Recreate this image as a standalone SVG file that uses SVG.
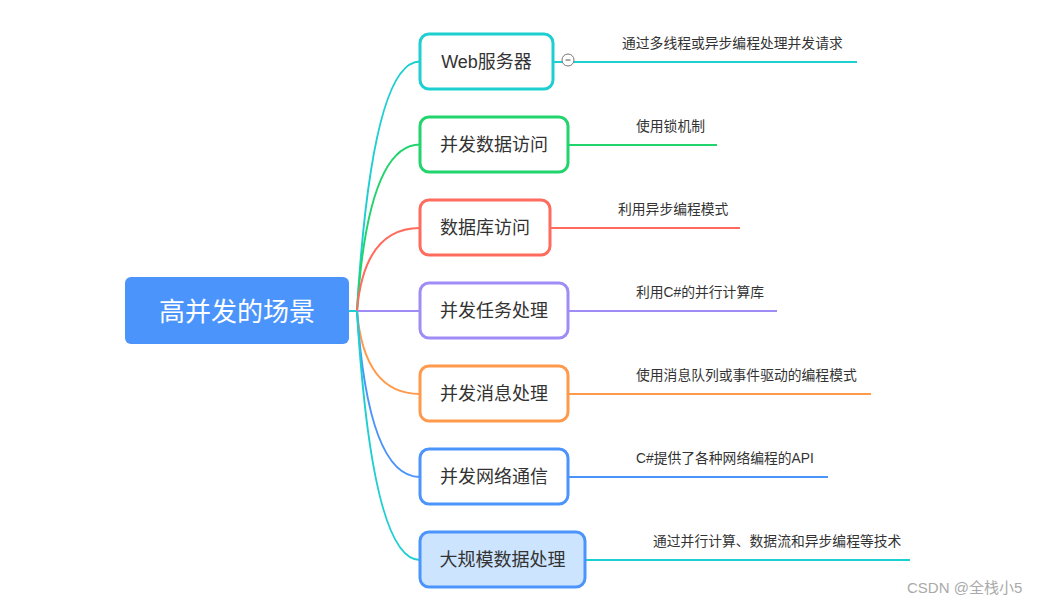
<svg xmlns="http://www.w3.org/2000/svg" width="1039" height="605" viewBox="0 0 1039 605">
<style>
.box{fill:#fff;stroke-width:3}
.ntext{font-family:"Liberation Sans","Noto Sans CJK SC",sans-serif;font-size:18px;fill:#333;text-anchor:middle}
.ltext{font-family:"Liberation Sans","Noto Sans CJK SC",sans-serif;font-size:13.8px;fill:#333}
.conn{fill:none;stroke-width:2}
</style>
<rect width="1039" height="605" fill="#fff"/>
<g id="connectors">
<path class="conn" d="M349,311 L357,311" stroke="#1dcfd0"/>
<path class="conn" d="M357,311 Q372,61.5 420,61.5" stroke="#1dcfd0"/>
<path class="conn" d="M357,311 Q368,144.5 420,144.5" stroke="#21d46b"/>
<path class="conn" d="M357,311 Q364,228 420,228" stroke="#ff6b5c"/>
<path class="conn" d="M357,311 Q360,311 420,311" stroke="#9f8cf5"/>
<path class="conn" d="M357,311 Q364,394 420,394" stroke="#ff9a4d"/>
<path class="conn" d="M357,311 Q368,477 420,477" stroke="#4b94fb"/>
<path class="conn" d="M357,311 Q372,560 420,560" stroke="#1dcfd0"/>
<path class="conn" d="M553,62 L857,62" stroke="#1dcfd0"/>
<path class="conn" d="M568,145 L717,145" stroke="#21d46b"/>
<path class="conn" d="M550,228 L740,228" stroke="#ff6b5c"/>
<path class="conn" d="M568,311 L777,311" stroke="#9f8cf5"/>
<path class="conn" d="M568,394 L871,394" stroke="#ff9a4d"/>
<path class="conn" d="M568,477 L828,477" stroke="#4b94fb"/>
<path class="conn" d="M585,560 L910,560" stroke="#1dcfd0"/>
</g>
<g id="root">
<rect x="125" y="277" width="224" height="67" rx="6" fill="#4b94fc"/>
<text x="237" y="321" font-family="Liberation Sans,Noto Sans CJK SC,sans-serif" font-size="26" fill="#fff" text-anchor="middle">高并发的场景</text>
</g>
<g id="node-web">
<rect class="box" x="420" y="34" width="133" height="55" rx="9" stroke="#1dcfd0"/>
<text class="ntext" x="486.5" y="68">Web服务器</text>
<circle cx="568" cy="60" r="6" fill="#fff" stroke="#777" stroke-width="1"/>
<line x1="565.5" y1="60" x2="570.5" y2="60" stroke="#555" stroke-width="1"/>
<text class="ltext" x="622" y="48">通过多线程或异步编程处理并发请求</text>
</g>
<g id="node-data">
<rect class="box" x="420" y="117" width="148" height="55" rx="9" stroke="#21d46b"/>
<text class="ntext" x="494" y="151">并发数据访问</text>
<text class="ltext" x="636" y="131">使用锁机制</text>
</g>
<g id="node-db">
<rect class="box" x="420" y="200" width="130" height="55" rx="9" stroke="#ff6b5c"/>
<text class="ntext" x="485" y="234">数据库访问</text>
<text class="ltext" x="618" y="214">利用异步编程模式</text>
</g>
<g id="node-task">
<rect class="box" x="420" y="283" width="148" height="55" rx="9" stroke="#9f8cf5"/>
<text class="ntext" x="494" y="317">并发任务处理</text>
<text class="ltext" x="636" y="297">利用C#的并行计算库</text>
</g>
<g id="node-msg">
<rect class="box" x="420" y="366" width="148" height="55" rx="9" stroke="#ff9a4d"/>
<text class="ntext" x="494" y="400">并发消息处理</text>
<text class="ltext" x="636" y="380">使用消息队列或事件驱动的编程模式</text>
</g>
<g id="node-net">
<rect class="box" x="420" y="449" width="148" height="55" rx="9" stroke="#4b94fb"/>
<text class="ntext" x="494" y="483">并发网络通信</text>
<text class="ltext" x="636" y="463">C#提供了各种网络编程的API</text>
</g>
<g id="node-big">
<rect x="420" y="532" width="165" height="55" rx="9" fill="#cce4fd" stroke="#4b94fb" stroke-width="3"/>
<text class="ntext" x="502.5" y="566">大规模数据处理</text>
<text class="ltext" x="653" y="546">通过并行计算、数据流和异步编程等技术</text>
</g>
<text x="907" y="593" font-family="Liberation Sans,Noto Sans CJK SC,sans-serif" font-size="15" fill="#aaa">CSDN @全栈小5</text>
</svg>
